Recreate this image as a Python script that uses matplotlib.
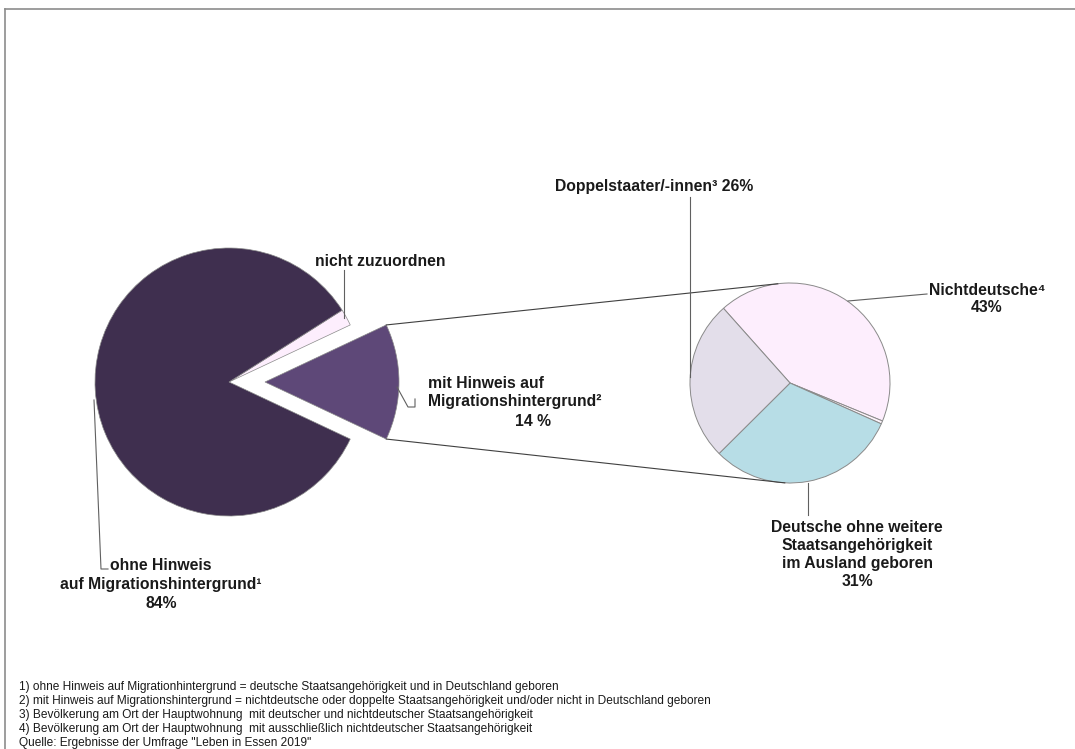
import numpy as np
import matplotlib
matplotlib.use("Agg")
import matplotlib.pyplot as plt

W, H = 1075, 749

# Hauptkreis: Bevoelkerung nach Migrationshintergrund
main_labels = ["mit Hinweis auf Migrationshintergrund", "nicht zuzuordnen",
               "ohne Hinweis auf Migrationshintergrund"]
main_values = [14, 2, 84]
main_colors = ["#5e4878", "#fdeefd", "#3f2f4f"]

# Teilkreis: mit Hinweis auf Migrationshintergrund nach Staatsangehoerigkeit
sub_labels = ["Nichtdeutsche", "ohne Angabe", "Deutsche ohne weitere Staatsangehörigkeit",
              "Doppelstaater/-innen"]
sub_values = [43, 0.5, 31, 26]
sub_colors = ["#fdeefd", "#fdf4fb", "#b7dde6", "#e3deea"]

footnotes = [
    "1) ohne Hinweis auf Migrationhintergrund = deutsche Staatsangehörigkeit und in Deutschland geboren",
    "2) mit Hinweis auf Migrationshintergrund = nichtdeutsche oder doppelte Staatsangehörigkeit und/oder nicht in Deutschland geboren",
    "3) Bevölkerung am Ort der Hauptwohnung  mit deutscher und nichtdeutscher Staatsangehörigkeit",
    "4) Bevölkerung am Ort der Hauptwohnung  mit ausschließlich nichtdeutscher Staatsangehörigkeit",
    "Quelle: Ergebnisse der Umfrage \"Leben in Essen 2019\"",
]

plt.rcParams["font.family"] = ["Liberation Sans", "DejaVu Sans"]

fig = plt.figure(figsize=(W / 100, H / 100), dpi=100)
ax = fig.add_axes([0, 0, 1, 1])


def Y(y):
    # pixel rows are counted from the top
    return H - y


# left pie, the 14% slice pulled out to the right (explode is in data units here)
c1 = (229, Y(382))
r1 = 134
shift = 36
explode = [shift, 0, 0]
start1 = -main_values[0] / 100 * 360 / 2
ax.pie(main_values, colors=main_colors, center=c1, radius=r1, startangle=start1,
       explode=explode, frame=True,
       wedgeprops=dict(edgecolor="#8a8a8a", linewidth=0.5))

# right pie
c2 = (790, Y(383))
r2 = 100
ax.pie(sub_values, colors=sub_colors, center=c2, radius=r2, startangle=131.7,
       counterclock=False, frame=True,
       wedgeprops=dict(edgecolor="#8a8a8a", linewidth=0.7))

# connector lines from the pulled-out slice to the right pie
half = np.deg2rad(-start1)
vx = c1[0] + shift
for sgn, ang2 in [(1, 97), (-1, -93)]:
    x0 = vx + r1 * np.cos(half)
    y0 = c1[1] + sgn * r1 * np.sin(half)
    x1 = c2[0] + r2 * np.cos(np.deg2rad(ang2))
    y1 = c2[1] + r2 * np.sin(np.deg2rad(ang2))
    ax.plot([x0, x1], [y0, y1], color="#404040", lw=0.8)

lc = "#606060"
lw = 0.8
# leader lines
ax.plot([344, 344], [Y(270), Y(318)], color=lc, lw=lw)
ax.plot([397, 408, 415, 415], [Y(387), Y(407), Y(407), Y(399)], color=lc, lw=lw)
ax.plot([94, 101, 108], [Y(400), Y(569), Y(569)], color=lc, lw=lw)
ax.plot([690, 690], [Y(197), Y(377)], color=lc, lw=lw)
ax.plot([848, 927], [Y(301), Y(294)], color=lc, lw=lw)
ax.plot([808, 808], [Y(483), Y(515)], color=lc, lw=lw)

bold = dict(fontsize=11.3, fontweight="bold", color="#1a1a1a")
ax.text(380, Y(262), "nicht zuzuordnen", ha="center", va="center", **bold)
ax.text(428, Y(392.5), "mit Hinweis auf\nMigrationshintergrund²", ha="left", va="center",
        linespacing=1.3, **bold)
ax.text(533, Y(422), f"{main_values[0]} %", ha="center", va="center", **bold)
ax.text(161, Y(584.5), f"ohne Hinweis\nauf Migrationshintergrund¹\n{main_values[2]}%",
        ha="center", va="center", linespacing=1.32, **bold)
ax.text(654, Y(186), f"Doppelstaater/-innen³ {sub_values[3]}%", ha="center", va="center", **bold)
ax.text(987, Y(299), f"Nichtdeutsche⁴\n{sub_values[0]}%", ha="center", va="center",
        linespacing=1.15, **bold)
ax.text(857, Y(554.5), f"Deutsche ohne weitere\nStaatsangehörigkeit\nim Ausland geboren\n{sub_values[2]}%",
        ha="center", va="center", linespacing=1.27, **bold)

for i, line in enumerate(footnotes):
    ax.text(19, Y(687 + 14 * i), line, ha="left", va="center", fontsize=8.6, color="#1a1a1a")

# frame around the chart area
ax.plot([5, W], [Y(9), Y(9)], color="#8c8c8c", lw=1.2)
ax.plot([5, 5], [Y(9), 0], color="#8c8c8c", lw=1.2)

ax.set_xlim(0, W)
ax.set_ylim(0, H)
ax.set_aspect("equal")
ax.axis("off")

fig.savefig("out.png", dpi=100)
